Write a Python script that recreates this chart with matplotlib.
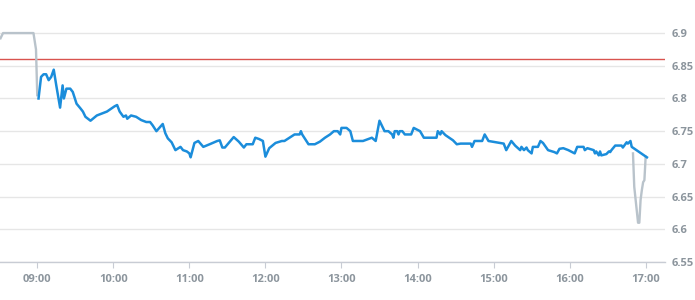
import matplotlib
matplotlib.use("Agg")
import matplotlib.pyplot as plt
from matplotlib.ticker import FixedLocator, FuncFormatter

# Предторговая часть (серая линия)
pre_times = ["08:31", "08:33", "08:57", "08:59", "09:00"]
pre_values = [6.892, 6.900, 6.900, 6.875, 6.805]

# Основная сессия (синяя линия)
main_times = [
    "09:01", "09:03", "09:05", "09:07", "09:09", "09:11", "09:13", "09:15", "09:18", "09:20",
    "09:21", "09:23", "09:26", "09:28", "09:31", "09:34", "09:36", "09:38", "09:40", "09:42",
    "09:47", "09:55", "10:01", "10:03", "10:05", "10:08", "10:10", "10:11", "10:14", "10:18",
    "10:22", "10:26", "10:29", "10:31", "10:34", "10:39", "10:41", "10:43", "10:46", "10:49",
    "10:53", "10:55", "10:58", "11:00", "11:01", "11:04", "11:07", "11:11", "11:16", "11:22",
    "11:24", "11:26", "11:28", "11:35", "11:39", "11:43", "11:45", "11:50", "11:52", "11:55",
    "11:58", "12:00", "12:03", "12:08", "12:13", "12:15", "12:19", "12:23", "12:27", "12:28",
    "12:29", "12:34", "12:39", "12:43", "12:47", "12:51", "12:54", "12:57", "12:59", "13:00",
    "13:04", "13:07", "13:09", "13:17", "13:24", "13:27", "13:30", "13:34", "13:37", "13:40",
    "13:41", "13:42", "13:44", "13:45", "13:46", "13:48", "13:50", "13:55", "13:57", "14:02",
    "14:05", "14:15", "14:16", "14:18", "14:19", "14:22", "14:28", "14:31", "14:34", "14:42",
    "14:43", "14:45", "14:51", "14:53", "14:56", "15:08", "15:10", "15:14", "15:17", "15:21",
    "15:22", "15:24", "15:26", "15:27", "15:30", "15:31", "15:35", "15:37", "15:39", "15:43",
    "15:48", "15:50", "15:52", "15:55", "15:59", "16:04", "16:06", "16:11", "16:12", "16:14",
    "16:19", "16:20", "16:21", "16:23", "16:24", "16:25", "16:29", "16:31", "16:32", "16:33",
    "16:36", "16:41", "16:42", "16:45", "16:46", "16:48", "16:49", "16:55", "17:01",
]
main_values = [
    6.800, 6.833, 6.837, 6.837, 6.828, 6.833, 6.844, 6.820, 6.786, 6.820,
    6.800, 6.815, 6.815, 6.810, 6.792, 6.785, 6.780, 6.772, 6.769, 6.766,
    6.774, 6.780, 6.788, 6.790, 6.780, 6.772, 6.774, 6.769, 6.774, 6.772,
    6.767, 6.764, 6.764, 6.759, 6.750, 6.761, 6.747, 6.739, 6.733, 6.721,
    6.726, 6.721, 6.719, 6.716, 6.710, 6.732, 6.735, 6.726, 6.730, 6.735,
    6.736, 6.725, 6.725, 6.741, 6.734, 6.725, 6.730, 6.730, 6.740, 6.738,
    6.735, 6.711, 6.724, 6.732, 6.735, 6.735, 6.740, 6.745, 6.745, 6.750,
    6.745, 6.730, 6.730, 6.734, 6.740, 6.745, 6.750, 6.750, 6.745, 6.755,
    6.755, 6.750, 6.735, 6.735, 6.740, 6.735, 6.766, 6.750, 6.750, 6.745,
    6.740, 6.750, 6.750, 6.745, 6.750, 6.750, 6.745, 6.745, 6.755, 6.750,
    6.740, 6.740, 6.750, 6.745, 6.750, 6.744, 6.736, 6.730, 6.731, 6.731,
    6.726, 6.735, 6.735, 6.745, 6.735, 6.731, 6.721, 6.735, 6.728, 6.721,
    6.726, 6.721, 6.725, 6.721, 6.716, 6.726, 6.726, 6.735, 6.732, 6.721,
    6.718, 6.716, 6.723, 6.724, 6.721, 6.716, 6.726, 6.726, 6.721, 6.724,
    6.721, 6.716, 6.719, 6.713, 6.719, 6.713, 6.715, 6.719, 6.718, 6.721,
    6.728, 6.728, 6.725, 6.733, 6.731, 6.735, 6.726, 6.718, 6.710,
]

# Аукцион закрытия (серая линия)
post_times = ["16:50", "16:51", "16:54", "16:55", "16:56", "16:57", "16:58", "16:59", "17:00"]
post_values = [6.716, 6.665, 6.610, 6.610, 6.645, 6.660, 6.672, 6.675, 6.711]

ref_level = 6.86
hour_ticks = ["09:00", "10:00", "11:00", "12:00", "13:00", "14:00", "15:00", "16:00", "17:00"]
y_ticks = [6.55, 6.6, 6.65, 6.7, 6.75, 6.8, 6.85, 6.9]


def to_hours(times):
    return [int(t[:2]) + int(t[3:]) / 60 for t in times]


def fmt_hour(x, pos):
    h = int(x)
    m = int(round((x - h) * 60))
    return f"{h:02d}:{m:02d}"


plt.rcParams['font.family'] = ['Open Sans', 'DejaVu Sans']

fig = plt.figure(figsize=(6.95, 3.0), dpi=100)
ax = fig.add_axes([0.0, 0.1267, 0.9568, 0.8067])

grid_color = '#e6e6e6'
text_color = '#8c959d'

ax.plot(to_hours(pre_times), pre_values, color='#b9c3cb', lw=1.7, zorder=3)
ax.plot(to_hours(post_times), post_values, color='#b9c3cb', lw=1.7, zorder=3)
ax.plot(to_hours(main_times), main_values, color='#1b8ddb', lw=1.8, zorder=4)
ax.axhline(ref_level, color='#d9534f', lw=1.0, zorder=2)

ax.set_xlim(8.51, 17.254)
ax.set_ylim(6.55, 6.92)

ax.xaxis.set_major_locator(FixedLocator(to_hours(hour_ticks)))
ax.xaxis.set_major_formatter(FuncFormatter(fmt_hour))
ax.set_yticks(y_ticks)
ax.set_yticklabels([f"{v:g}" for v in y_ticks])

ax.yaxis.tick_right()
ax.tick_params(axis='y', length=0, pad=5, labelsize=8, labelcolor=text_color)
ax.tick_params(axis='x', length=4, width=0.8, color='#c8ccd4', pad=5,
               labelsize=8, labelcolor=text_color)
for lbl in ax.get_xticklabels() + ax.get_yticklabels():
    lbl.set_fontweight('bold')

ax.grid(axis='y', color=grid_color, lw=1.0, zorder=0)
for side in ['top', 'left', 'right']:
    ax.spines[side].set_visible(False)
ax.spines['bottom'].set_color('#c8ccd4')
ax.spines['bottom'].set_linewidth(1.0)

fig.savefig('out.png', dpi=100)
